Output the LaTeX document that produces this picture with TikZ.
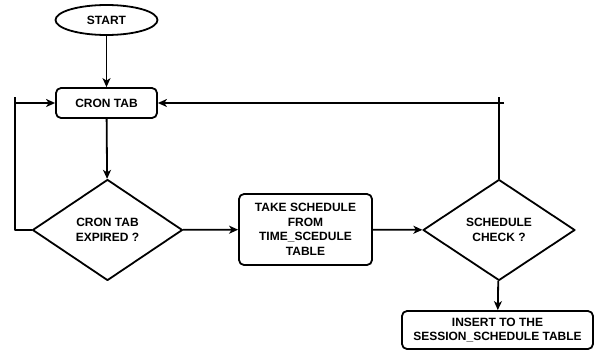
\documentclass[tikz,border=0pt]{standalone}
\usepackage{fontspec}
\setmainfont{Liberation Sans}
\usetikzlibrary{shapes.geometric}
\usetikzlibrary{arrows.meta}

\tikzset{
  txt/.style = {font = \bfseries\fontsize{12}{14.5}\selectfont, align = center},
  procbox/.style = {txt, draw, rounded corners = 5pt, inner sep = 0pt},
  decision/.style = {txt, draw, diamond, inner sep = 0pt, minimum width = 150pt,
    minimum height = 101pt},
  flow/.style = {-{Stealth[length = 9pt, width = 8pt, inset = 2.5pt]}}
}

\begin{document}
\begin{tikzpicture}[x = 1pt, y = -1pt, line join = round, line width = 1.8pt]
  \useasboundingbox (0, 0) rectangle (595, 351);

  \node[txt, draw, ellipse, minimum width = 102pt, minimum height = 30pt,
    inner sep = 0pt] (start) at (106.5, 20) {START};
  \node[procbox, minimum width = 101pt, minimum height = 30pt] (cron) at (106.5, 103)
    {CRON TAB};
  \node[decision] (expired) at (107.5, 230) {CRON TAB\\EXPIRED ?};
  \node[procbox, minimum width = 133pt, minimum height = 71pt] (take) at (305.5, 229.5)
    {TAKE SCHEDULE\\FROM\\TIME\_SCEDULE\\TABLE};
  \node[decision, minimum width = 152pt] (check) at (499, 230) {SCHEDULE\\CHECK ?};
  \node[procbox, minimum width = 191pt, minimum height = 38pt] (insert) at (497.5, 330)
    {INSERT TO THE\\SESSION\_SCHEDULE TABLE};

  \coordinate (ltop) at (15, 97);
  \coordinate (rtop) at (499, 97);
  \coordinate (rend) at (504, 103);

  \draw[flow] (start) -- (cron);
  \draw[flow] (cron) -- (expired);
  \draw[flow] (expired) -- (take);
  \draw[flow] (take) -- (check);
  \draw[flow] (check) -- (insert);

  \draw (expired.west) -| (ltop);
  \draw[flow] (ltop |- cron) -- (cron.west);
  \draw (check.north) -- (rtop);
  \draw[flow] (rend) -- (cron.east);
\end{tikzpicture}
\end{document}
